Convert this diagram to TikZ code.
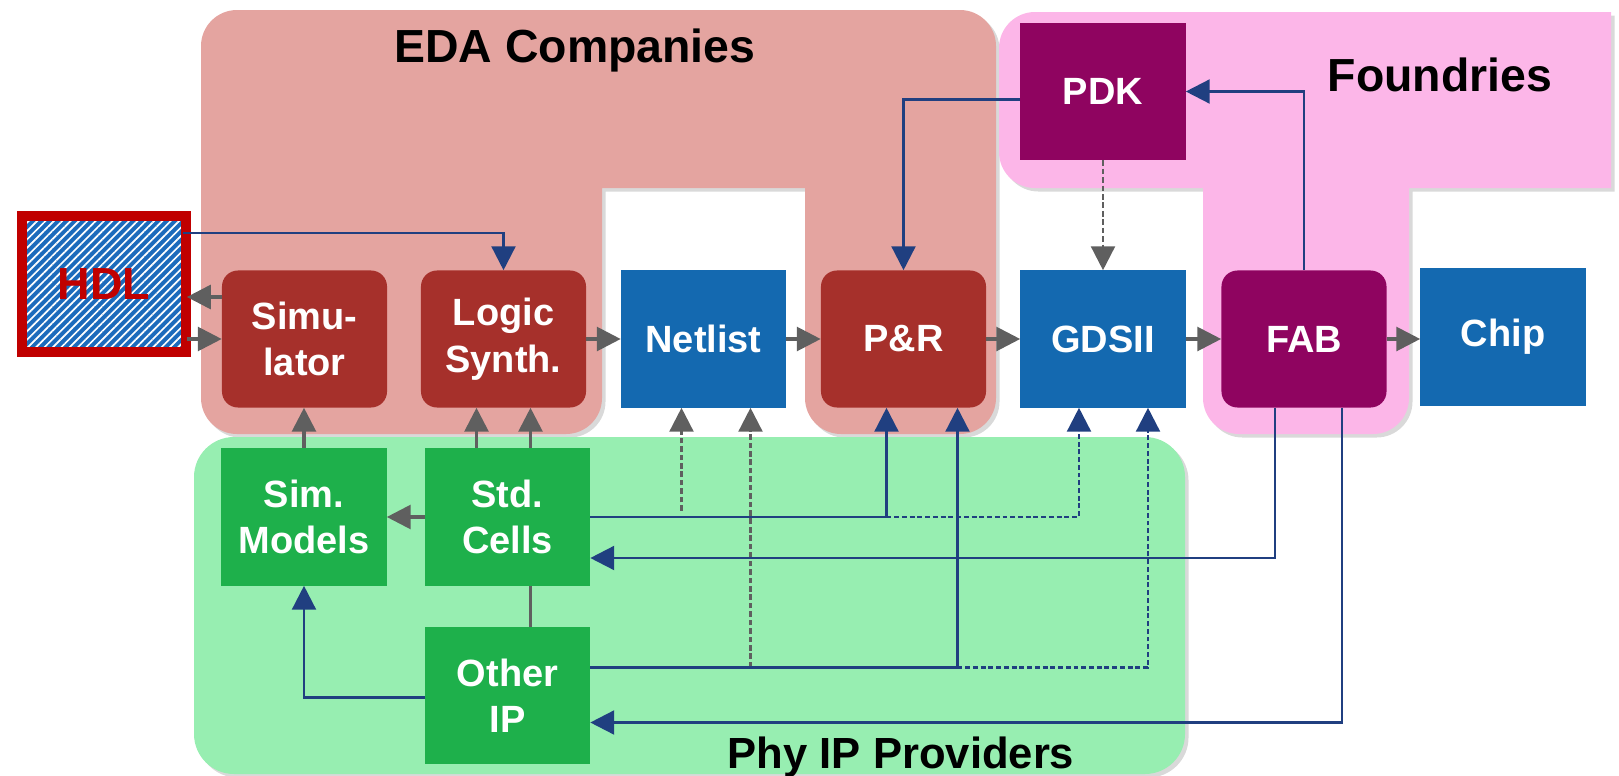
\documentclass[tikz,border=0pt]{standalone}
\usepackage{fontspec}
\setmainfont{Liberation Sans}
\usetikzlibrary{arrows.meta,calc,shadows,patterns.meta}
\definecolor{edabg}{HTML}{E4A4A0}
\definecolor{fndbg}{HTML}{FCB6E8}
\definecolor{ipbg}{HTML}{97EEB1}
\definecolor{edabox}{HTML}{A6302B}
\definecolor{databox}{HTML}{1469B0}
\definecolor{fndbox}{HTML}{8F0460}
\definecolor{ipbox}{HTML}{1EB04B}
\definecolor{flowgray}{HTML}{5F5F5F}
\definecolor{libnavy}{HTML}{203F80}
\definecolor{hdlred}{HTML}{C00000}
\definecolor{hdlblue}{HTML}{1C6BBC}
\tikzset{
  >={Triangle[length=17pt,width=17pt]},
  blk/.style = {minimum width=4.125cm, minimum height=3.425cm, inner sep=0pt, align=center, text=white, font=\fontsize{27}{33}\selectfont\bfseries},
  edablk/.style = {blk, fill=edabox, rounded corners=0.4cm},
  datablk/.style = {blk, fill=databox},
  fndblk/.style = {blk, fill=fndbox},
  fabblk/.style = {fndblk, rounded corners=0.4cm},
  ipblk/.style = {blk, fill=ipbox},
  hdlblk/.style = {minimum width=4.1cm, minimum height=3.4cm, inner sep=0pt, draw=hdlred, line width=7pt, preaction={fill=hdlblue}, pattern={Lines[angle=45,distance=4.2pt,line width=1.2pt]}, pattern color=white, text=hdlred, font=\fontsize{32}{36}\selectfont\bfseries},
  region/.style = {drop shadow={shadow xshift=2.5pt, shadow yshift=-2.5pt, opacity=0.3}},
  title/.style = {anchor=base, font=\fontsize{33}{36}\selectfont\bfseries},
  flow/.style = {draw=flowgray, line width=2.2pt},
  flowdash/.style = {flow, line width=1.8pt, dash pattern=on 4pt off 2pt},
  lib/.style = {draw=libnavy, line width=1.8pt},
  libdash/.style = {lib, dash pattern=on 3.5pt off 2pt}
}

\begin{document}
\begin{tikzpicture}[x=0.025cm, y=-0.025cm]
\useasboundingbox (0,0) rectangle (1619,776);

% regions
\path[region, fill=edabg] (400,434) [rounded corners=0.9cm] -- (201,434) -- (201,10) -- (996,10) -- (996,434) -- (805,434) [sharp corners] -- (805,188) -- (602,188) [rounded corners=0.9cm] -- (602,434) -- cycle;
\path[region, fill=fndbg] (1306,434) [rounded corners=0.9cm] -- (1203,434) [sharp corners] -- (1203,188) [rounded corners=0.9cm] -- (999,188) -- (999,12) [sharp corners] -- (1611,12) -- (1611,188) -- (1409,188) [rounded corners=0.9cm] -- (1409,434) -- cycle;
\path[region, fill=ipbg, rounded corners=1cm] (194,437) rectangle (1185,774);

\node[title] (edatitle) at (575,62) {EDA Companies};
\node[title] (fndtitle) at (1440,91) {Foundries};
\node[title, font=\fontsize{31}{34}\selectfont\bfseries] (iptitle) at (901,768) {Phy IP Providers};

% blocks
\node[hdlblk] (hdl) at (104,284) {HDL};
\node[edablk] (sim) at (304.5,339) {Simu-\\lator};
\node[edablk] (synth) at (503.5,339) {Logic\\Synth.};
\node[datablk] (netlist) at (703.5,339) {Netlist};
\node[edablk] (pnr) at (903.5,339) {P\&R};
\node[datablk] (gds) at (1103,339) {GDSII};
\node[fabblk] (fab) at (1304,339) {FAB};
\node[datablk] (chip) at (1503,337) {Chip};
\node[fndblk] (pdk) at (1103,91.5) {PDK};
\node[ipblk] (simmod) at (304,517) {Sim.\\Models};
\node[ipblk] (stdcell) at (507.5,517) {Std.\\Cells};
\node[ipblk] (otherip) at (507.5,695.5) {Other\\IP};

% design flow
\draw[flow,->] (hdl.east |- sim.west) -- (sim.west);
\draw[flow,->] ($(sim.west)+(0,-42)$) coordinate (s1) -- (s1 -| hdl.east);
\draw[flow,->] (synth.east) -- (netlist.west);
\draw[flow,->] (netlist.east) -- (pnr.west);
\draw[flow,->] (pnr.east) -- (gds.west);
\draw[flow,->] (gds.east) -- (fab.west);
\draw[flow,->] (fab.east) -- (fab.east -| chip.west);
\draw[flow,->] (simmod.north) -- (simmod.north |- sim.south);
\draw[flow,<-] ($(synth.south)+(-27,0)$) coordinate (s2) -- (s2 |- stdcell.north);
\draw[flow,<-] ($(synth.south)+(27,0)$) coordinate (s3) -- (s3 |- stdcell.north);
\draw[flow,->] (stdcell.west) -- (simmod.east);
\draw[flow] (s3 |- stdcell.south) -- (s3 |- otherip.north);
\draw[flowdash,->] (pdk.south) -- (gds.north);

% library deliveries
\coordinate (oi) at ($(otherip.east)+(0,-28)$);
\coordinate (n1) at ($(netlist.south)+(-22,0)$);
\coordinate (n2) at ($(netlist.south)+(47,0)$);
\coordinate (n0) at ($(n1)+(0,103)$);
\coordinate (p1) at ($(pnr.south)+(-17,0)$);
\coordinate (p2) at ($(pnr.south)+(54,0)$);
\coordinate (g1) at ($(gds.south)+(-24,0)$);
\coordinate (g2) at ($(gds.south)+(45,0)$);
\coordinate (f1) at ($(fab.south)+(-29,0)$);
\coordinate (f2) at ($(fab.south)+(38,0)$);
\draw[flowdash,->] (n0) -- (n1);
\draw[flowdash,->] (oi -| n2) -- (n2);
\draw[lib,->] (stdcell.east) -| (p1);
\draw[libdash,->] (stdcell.east -| p1) -| (g1);
\draw[lib,->] (oi) -| (p2);
\draw[libdash,->] (oi -| p2) -| (g2);
\draw[lib,->] (f1) |- ($(stdcell.east)+(0,41)$);
\draw[lib,->] (f2) |- ($(otherip.east)+(0,27)$);
\draw[lib,->] ($(otherip.west)+(0,2)$) -| (simmod.south);
\draw[lib,->] ($(pdk.west)+(0,8)$) -| (pnr.north);
\draw[lib,->] (fab.north) |- (pdk.east);
\draw[lib,->] ($(hdl.north east)+(-4,18)$) -| (synth.north);
\end{tikzpicture}
\end{document}
